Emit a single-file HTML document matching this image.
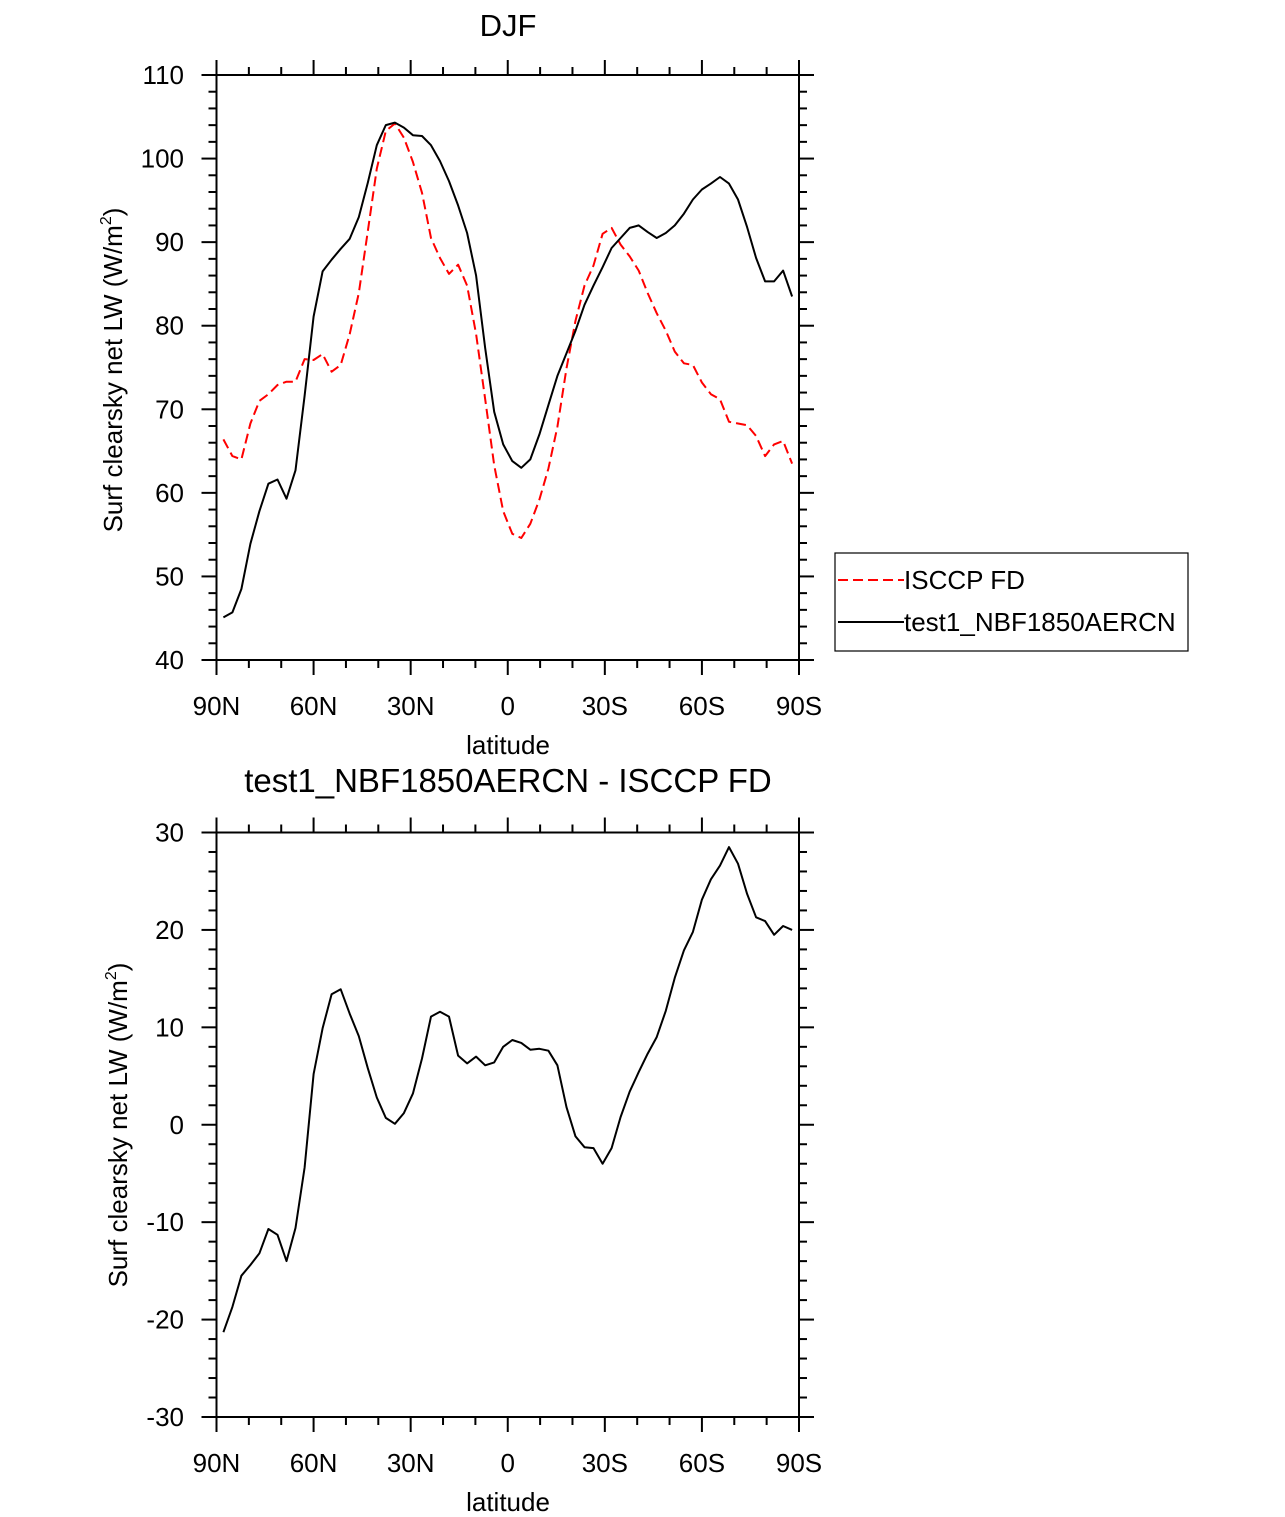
<!DOCTYPE html>
<html><head><meta charset="utf-8"><style>
html,body{margin:0;padding:0;background:#fff;}
svg{display:block;font-family:"Liberation Sans",Arial,sans-serif;}
</style></head><body>
<svg id="c" width="1285" height="1517" viewBox="0 0 1285 1517" xmlns="http://www.w3.org/2000/svg">
<text x="508" y="36" font-size="31" text-anchor="middle">DJF</text>
<text x="508" y="792" font-size="33" text-anchor="middle">test1_NBF1850AERCN - ISCCP FD</text>
<text transform="translate(122,370) rotate(-90)" font-size="26" text-anchor="middle">Surf clearsky net LW (W/m<tspan font-size="16" dy="-11">2</tspan><tspan dy="11">)</tspan></text>
<text transform="translate(127,1125) rotate(-90)" font-size="26" text-anchor="middle">Surf clearsky net LW (W/m<tspan font-size="16" dy="-11">2</tspan><tspan dy="11">)</tspan></text>
<text x="508" y="754" font-size="26" text-anchor="middle">latitude</text>
<text x="508" y="1511" font-size="26" text-anchor="middle">latitude</text>
<g>
<rect x="835" y="553" width="353" height="98" fill="#fff" stroke="#000" stroke-width="1.2"/>
<line x1="838" y1="580" x2="904" y2="580" stroke="#ff0000" stroke-width="2" stroke-dasharray="10,5"/>
<text x="904" y="589" font-size="26">ISCCP FD</text>
<line x1="838" y1="622" x2="904" y2="622" stroke="#000" stroke-width="2"/>
<text x="904" y="631" font-size="26">test1_NBF1850AERCN</text>
</g>
</svg>
<script>
const lats = [87.86,85.10,82.31,79.53,76.74,73.95,71.16,68.37,65.58,62.79,60.00,57.21,54.42,51.63,48.84,46.04,43.25,40.46,37.67,34.88,32.09,29.30,26.51,23.72,20.93,18.14,15.35,12.56,9.77,6.98,4.19,1.40,
-1.40,-4.19,-6.98,-9.77,-12.56,-15.35,-18.14,-20.93,-23.72,-26.51,-29.30,-32.09,-34.88,-37.67,-40.46,-43.25,-46.04,-48.84,-51.63,-54.42,-57.21,-60.00,-62.79,-65.58,-68.37,-71.16,-73.95,-76.74,-79.53,-82.31,-85.10,-87.86];
const test1 = [45.1,45.7,48.5,53.9,57.8,61.1,61.6,59.3,62.7,71.6,81.1,86.5,87.9,89.2,90.4,93.0,97.1,101.6,104.0,104.3,103.7,102.8,102.7,101.6,99.7,97.3,94.4,91.1,86.0,77.3,69.7,65.8,
63.8,63.0,64.0,67.0,70.5,74.0,76.7,79.4,82.5,84.8,87.0,89.3,90.5,91.7,92.0,91.2,90.5,91.1,92.0,93.4,95.1,96.3,97.0,97.8,97.0,95.1,91.8,88.1,85.3,85.3,86.6,83.5];
const isccp = [66.4,64.4,64.0,68.3,71.0,71.8,72.9,73.3,73.3,76.0,75.9,76.6,74.5,75.3,79.0,83.9,91.3,98.8,103.3,104.2,102.5,99.6,95.9,90.5,88.1,86.2,87.3,84.8,79.0,71.2,63.3,57.8,
55.1,54.6,56.3,59.2,62.9,67.9,74.9,80.6,84.8,87.2,91.0,91.7,89.7,88.3,86.6,83.9,81.5,79.4,76.9,75.5,75.3,73.2,71.8,71.2,68.5,68.3,68.1,66.8,64.4,65.8,66.2,63.5];
const xTickVals = [90,60,30,0,-30,-60,-90];
const xTickLabels = ["90N","60N","30N","0","30S","60S","90S"];
const topYTicks = [40,50,60,70,80,90,100,110];
const botYTicks = [-30,-20,-10,0,10,20,30];

const NS="http://www.w3.org/2000/svg";
const svg=document.getElementById('c');
function mk(tag,attrs,parent){const e=document.createElementNS(NS,tag);for(const k in attrs)e.setAttribute(k,attrs[k]);(parent||svg).appendChild(e);return e;}
const X0=216.5,X1=799;
function xs(lat){return X0+(90-lat)/180*(X1-X0);}

function panel(prefix,top,bottom,ymin,ymax,yTicks,minorStep){
  const ys=v=>bottom-(v-ymin)/(ymax-ymin)*(bottom-top);
  const g=mk('g',{});
  
  
  const fr=mk('rect',{x:X0,y:top,width:X1-X0,height:bottom-top,fill:'none',stroke:'#000','stroke-width':2},g);
  
  
  for(let lat=90;lat>=-90;lat-=10){
    const major=(lat%30===0);const L=major?15:8;const x=xs(lat);
    const t1=mk('line',{x1:x,x2:x,y1:bottom,y2:bottom+L,stroke:'#000','stroke-width':2},g);
    
    
    const t2=mk('line',{x1:x,x2:x,y1:top,y2:top-L,stroke:'#000','stroke-width':2},g);
    
    
  }
  xTickVals.forEach((v,i)=>{
    const t=mk('text',{x:xs(v),y:bottom+55,'font-size':26,'text-anchor':'middle'},g);
    t.textContent=xTickLabels[i];
    
    
  });
  for(let v=ymin;v<=ymax+1e-6;v+=minorStep){
    const major=Math.abs(v/10-Math.round(v/10))<1e-6;const L=major?15:8;const y=ys(v);
    const t1=mk('line',{x1:X0,x2:X0-L,y1:y,y2:y,stroke:'#000','stroke-width':2},g);
    
    
    const t2=mk('line',{x1:X1,x2:X1+L,y1:y,y2:y,stroke:'#000','stroke-width':2},g);
    
    
  }
  yTicks.forEach(v=>{
    const t=mk('text',{x:184,y:ys(v)+9,'font-size':26,'text-anchor':'end'},g);
    t.textContent=String(v);
    
    
  });
  return ys;
}
function line(vals,ys,color,dash,name){
  const d=vals.map((v,i)=>(i?'L':'M')+xs(lats[i]).toFixed(1)+','+ys(v).toFixed(1)).join(' ');
  const p=mk('path',{d:d,fill:'none',stroke:color,'stroke-width':2,'stroke-linejoin':'round'});
  if(dash)p.setAttribute('stroke-dasharray',dash);
  
  
}
const ysTop=panel('top',75,660,40,110,topYTicks,2);
line(isccp,ysTop,'#ff0000','10,5','isccp-fd-line');
line(test1,ysTop,'#000',null,'test1-line');
const ysBot=panel('bottom',832.5,1417,-30,30,botYTicks,2);
const diff=test1.map((v,i)=>v-isccp[i]);
line(diff,ysBot,'#000',null,'difference-line');
</script>
</body></html>
